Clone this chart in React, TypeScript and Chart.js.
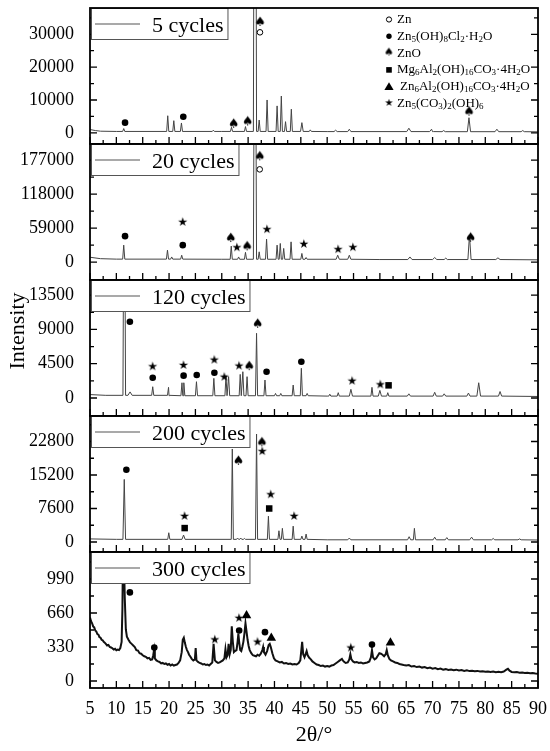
import React, { useEffect, useRef } from 'react';
import { Chart, registerables } from 'chart.js';

Chart.register(...registerables);

const FONT = '"Liberation Serif", "Times New Roman", serif';

type Pt = [number, number];
type Peak = [number, number, number?];
type Marker = [string, number, number];

// ---------- shared axis data ----------
const xTickLabels = [5, 10, 15, 20, 25, 30, 35, 40, 45, 50, 55, 60, 65, 70, 75, 80, 85, 90];
const xMinorTicks = [7.5, 12.5, 17.5, 22.5, 27.5, 32.5, 37.5, 42.5, 47.5, 52.5, 57.5, 62.5, 67.5, 72.5, 77.5, 82.5, 87.5];
const cycleLabels = ['5 cycles', '20 cycles', '120 cycles', '200 cycles', '300 cycles'];

// ---------- 5 cycles ----------
const yTicks5 = [0, 10000, 20000, 30000];
const yMinor5 = [5000, 15000, 25000, 35000];
const base5: Pt[] = [[5, 1000], [6, 700], [7, 500], [10, 420], [30, 420], [50, 380], [70, 350], [90, 300]];
const peaks5: Peak[] = [
  [11.4, 1300], [19.75, 5200], [20.9, 3700], [22.35, 3000], [28.4, 800], [31.85, 1700], [34.5, 1900],
  [36.3, 200000, 0.3], [37.1, 3900], [38.6, 10000], [40.5, 8200], [41.3, 11200], [42.1, 3400], [43.2, 7200],
  [45.2, 3100, 0.25], [46.8, 900], [51.6, 800, 0.3], [54.2, 1100, 0.3], [65.5, 1400, 0.4], [69.8, 1100, 0.35],
  [72.1, 700, 0.3], [76.9, 4600, 0.3], [82.2, 1100, 0.35], [87.1, 700, 0.3],
];
const markers5: Marker[] = [
  ['ZnO', 37.25, 33600], ['Zn', 37.25, 30600], ['HC', 11.65, 3100], ['HC', 22.7, 4900],
  ['ZnO', 32.25, 2600], ['ZnO', 34.9, 3300], ['ZnO', 76.9, 6300],
];

// ---------- 20 cycles ----------
const yTicks20 = [0, 59000, 118000, 177000];
const yMinor20 = [29500, 88500, 147500];
const base20: Pt[] = [[5, 8500], [7, 6000], [10, 5200], [30, 5000], [60, 4500], [90, 4000]];
const peaks20: Peak[] = [
  [11.4, 29500], [19.7, 20800], [20.5, 9000], [22.4, 12000], [31.8, 27800], [33.2, 9000], [34.5, 17000],
  [36.3, 700000, 0.3], [37.1, 17900], [38.5, 40000], [40.5, 29500], [41.1, 32400], [41.75, 23800],
  [43.15, 35200], [45.2, 15100], [46.0, 8000], [52.0, 12000, 0.3], [54.2, 12000, 0.3], [65.7, 9000, 0.4],
  [70.4, 8000, 0.4], [72.5, 7000, 0.3], [77.0, 46800, 0.3], [82.4, 7500, 0.4],
];
const markers20: Marker[] = [
  ['HC', 11.65, 45100], ['HZ', 22.6, 68200], ['HC', 22.6, 29500], ['ZnO', 31.7, 41000], ['HZ', 32.9, 24000],
  ['ZnO', 34.8, 26500], ['ZnO', 37.2, 182700], ['Zn', 37.2, 161000], ['HZ', 38.6, 55500], ['HZ', 45.6, 30000],
  ['HZ', 52.1, 20800], ['HZ', 54.9, 24300], ['ZnO', 77.2, 41600],
];

// ---------- 120 cycles ----------
const yTicks120 = [0, 4500, 9000, 13500];
const yMinor120 = [2250, 6750, 11250];
const base120: Pt[] = [[5, 450], [8, 350], [20, 300], [50, 250], [90, 200]];
const peaks120: Peak[] = [
  [11.5, 40000, 0.25], [12.6, 800, 0.4], [16.9, 1480], [19.9, 1400], [22.45, 2000], [22.8, 2000], [25.2, 2140],
  [28.5, 2580], [30.8, 2930], [31.3, 2800], [33.5, 3100], [34.0, 3450], [34.8, 2800], [36.6, 8490], [38.2, 2360],
  [40.2, 600], [41.2, 600], [43.55, 1700], [45.1, 3900], [46.2, 600], [50.5, 500], [52.1, 700], [54.5, 1140, 0.3],
  [58.5, 1400], [60.0, 1000, 0.3], [61.5, 700], [65.5, 550, 0.3], [70.4, 750, 0.3], [72.2, 550, 0.3],
  [76.8, 650, 0.3], [78.75, 2000, 0.35], [82.8, 850, 0.3],
];
const markers120: Marker[] = [
  ['HC', 12.57, 10000], ['HZ', 16.9, 4030], ['HC', 16.9, 2660], ['HZ', 22.76, 4200], ['HC', 22.76, 2930],
  ['HC', 25.25, 3020], ['HZ', 28.6, 4900], ['HC', 28.6, 3320], ['HZ', 30.5, 2660], ['HZ', 33.3, 4110],
  ['ZnO', 35.2, 4110], ['ZnO', 36.8, 9670], ['HC', 38.5, 3450], ['HC', 45.1, 4760], ['HZ', 54.75, 2140],
  ['HZ', 60.1, 1660], ['MgAl', 61.65, 1660],
];

// ---------- 200 cycles ----------
const yTicks200 = [0, 7600, 15200, 22800];
const yMinor200 = [3800, 11400, 19000, 26600];
const base200: Pt[] = [[5, 700], [10, 600], [50, 500], [90, 450]];
const peaks200: Peak[] = [
  [11.5, 14200, 0.25], [19.95, 2100], [22.75, 1580, 0.3], [32.0, 21100], [33.0, 900], [33.6, 900], [34.3, 800],
  [36.6, 24500], [38.85, 5860], [40.85, 2550], [41.5, 3100], [43.55, 3600], [45.2, 1350], [46.0, 1800],
  [54.2, 900, 0.3], [65.55, 1200, 0.3], [66.55, 3100], [70.4, 1100, 0.3], [72.7, 1000, 0.3], [77.4, 1100, 0.35],
  [81.5, 800, 0.3], [86.5, 700, 0.3],
];
const markers200: Marker[] = [
  ['HC', 11.9, 16400], ['HZ', 22.96, 5700], ['MgAl', 22.96, 3160], ['ZnO', 33.15, 18300], ['ZnO', 37.6, 22500],
  ['HZ', 37.7, 20400], ['HZ', 39.3, 10600], ['MgAl', 39.0, 7600], ['HZ', 43.75, 5700],
];

// ---------- 300 cycles ----------
const yTicks300 = [0, 330, 660, 990];
const yMinor300 = [165, 495, 825, 1155];
const series300: Pt[] = [
  [5.0, 616], [5.2, 580], [5.4, 560], [5.6, 530], [5.8, 520], [6.0, 490], [6.2, 480], [6.4, 455], [6.6, 450],
  [6.8, 425], [7.0, 420], [7.2, 400], [7.4, 395], [7.6, 380], [7.8, 372], [8.0, 360], [8.25, 345], [8.5, 350],
  [8.75, 330], [9.0, 325], [9.25, 318], [9.5, 305], [9.75, 312], [10.0, 298], [10.25, 305], [10.5, 300],
  [10.75, 320], [11.0, 380], [11.15, 700], [11.3, 1500], [11.45, 1500], [11.6, 800], [11.8, 500], [12.0, 430],
  [12.3, 400], [12.6, 375], [12.9, 360], [13.2, 345], [13.5, 330], [13.8, 300], [14.1, 295], [14.4, 270],
  [14.7, 265], [15.0, 250], [15.3, 240], [15.6, 235], [15.9, 220], [16.2, 225], [16.5, 205], [16.8, 210],
  [17.0, 250], [17.15, 300], [17.3, 220], [17.6, 200], [17.9, 190], [18.2, 185], [18.5, 170], [18.8, 175],
  [19.1, 165], [19.4, 170], [19.7, 158], [20.0, 165], [20.3, 150], [20.6, 160], [20.9, 150], [21.2, 155],
  [21.5, 160], [21.8, 175], [22.1, 200], [22.4, 280], [22.6, 400], [22.8, 420], [23.0, 370], [23.2, 330],
  [23.4, 300], [23.6, 280], [23.8, 255], [24.0, 240], [24.3, 215], [24.6, 200], [24.9, 210], [25.05, 320],
  [25.2, 200], [25.5, 185], [25.8, 175], [26.1, 170], [26.4, 160], [26.7, 165], [27.0, 155], [27.3, 160],
  [27.6, 150], [27.9, 165], [28.2, 180], [28.45, 360], [28.7, 200], [29.0, 185], [29.3, 175], [29.6, 180],
  [29.9, 190], [30.2, 200], [30.5, 220], [30.7, 310], [30.9, 230], [31.1, 250], [31.3, 360], [31.5, 260],
  [31.7, 300], [31.9, 530], [32.1, 380], [32.3, 280], [32.5, 290], [32.8, 300], [33.0, 380], [33.15, 460],
  [33.3, 380], [33.5, 300], [33.7, 290], [33.9, 330], [34.1, 380], [34.3, 460], [34.5, 560], [34.7, 480],
  [34.9, 400], [35.1, 340], [35.3, 300], [35.6, 270], [35.9, 250], [36.2, 245], [36.5, 240], [36.8, 255],
  [37.1, 245], [37.4, 265], [37.7, 300], [37.85, 330], [38.0, 280], [38.3, 255], [38.6, 290], [38.9, 350],
  [39.1, 360], [39.3, 330], [39.6, 270], [39.9, 220], [40.2, 200], [40.6, 190], [41.0, 180], [41.4, 185],
  [41.8, 170], [42.2, 175], [42.6, 165], [43.0, 170], [43.4, 160], [43.8, 165], [44.2, 160], [44.6, 175],
  [44.9, 200], [45.1, 300], [45.25, 380], [45.45, 260], [45.7, 230], [45.9, 260], [46.1, 290], [46.3, 250],
  [46.6, 225], [46.9, 210], [47.2, 190], [47.6, 175], [48.0, 160], [48.4, 155], [48.8, 145], [49.2, 150],
  [49.6, 140], [50.0, 145], [50.4, 140], [50.8, 150], [51.2, 155], [51.6, 170], [52.0, 185], [52.4, 200],
  [52.8, 215], [53.1, 190], [53.5, 175], [53.9, 180], [54.2, 210], [54.4, 260], [54.6, 210], [54.9, 190],
  [55.2, 180], [55.6, 185], [56.0, 175], [56.4, 180], [56.8, 170], [57.2, 175], [57.6, 180], [58.0, 190],
  [58.3, 230], [58.5, 300], [58.7, 230], [59.0, 210], [59.3, 220], [59.6, 245], [59.9, 270], [60.2, 265],
  [60.5, 255], [60.8, 240], [61.1, 260], [61.3, 300], [61.5, 250], [61.8, 215], [62.1, 200], [62.5, 190],
  [62.9, 180], [63.3, 175], [63.7, 165], [64.1, 160], [64.5, 155], [65.0, 150], [65.5, 155], [66.0, 140],
  [66.5, 145], [67.0, 135], [67.5, 140], [68.0, 130], [68.5, 135], [69.0, 125], [69.5, 130], [70.0, 120],
  [70.5, 125], [71.0, 115], [71.5, 120], [72.0, 110], [72.5, 115], [73.0, 108], [73.5, 112], [74.0, 105],
  [74.5, 110], [75.0, 102], [75.5, 106], [76.0, 98], [76.5, 103], [77.0, 96], [77.5, 100], [78.0, 94],
  [78.5, 98], [79.0, 92], [79.5, 95], [80.0, 90], [80.5, 93], [81.0, 88], [81.5, 92], [82.0, 86], [82.5, 90],
  [83.0, 86], [83.5, 92], [84.0, 110], [84.3, 118], [84.6, 100], [85.0, 88], [85.5, 84], [86.0, 86], [86.5, 80],
  [87.0, 82], [87.5, 78], [88.0, 80], [88.5, 75], [89.0, 77], [89.5, 72], [90.0, 70],
];
const markers300: Marker[] = [
  ['HC', 12.57, 860], ['HC', 17.2, 324], ['HZ', 28.7, 394], ['HZ', 33.3, 603], ['HC', 33.3, 490],
  ['ZnAl', 34.7, 635], ['HZ', 36.8, 372], ['HC', 38.2, 474], ['ZnAl', 39.4, 417], ['HZ', 54.5, 315],
  ['HC', 58.5, 353], ['ZnAl', 62.0, 372],
];

// ---------- phase legend ----------
const phaseTypes = ['Zn', 'HC', 'ZnO', 'MgAl', 'ZnAl', 'HZ'];
const phaseNames = ['Zn', 'Zn_5(OH)_8Cl_2·H_2O', 'ZnO', 'Mg_6Al_2(OH)_16CO_3·4H_2O', 'Zn_6Al_2(OH)_16CO_3·4H_2O', 'Zn_5(CO_3)_2(OH)_6'];

// ---------- layout constants ----------
const PANEL_TOPS = [8, 144, 280, 416, 552];
const PANEL_H = 136;
const PLOT_LEFT = 90;
const PLOT_RIGHT = 538;
const PAGE_H = 751;

function buildPattern(base: Pt[], peaks: Peak[], hw: number) {
  const pts = base.map(([x, y]) => ({ x, y }));
  for (const pk of peaks) {
    const c = pk[0], h = pk[1], w = pk[2] ?? hw;
    let b = base[0][1];
    for (const [bx, by] of base) if (bx <= c) b = by;
    pts.push({ x: c - w, y: b }, { x: c, y: h }, { x: c + w, y: b });
  }
  return pts.sort((a, b) => a.x - b.x);
}

const PANELS = [
  { label: cycleLabels[0], data: () => buildPattern(base5, peaks5, 0.2), yMin: -3400, yMax: 38000, yTicks: yTicks5, yMinor: yMinor5, markers: markers5, color: '#444', lw: 1 },
  { label: cycleLabels[1], data: () => buildPattern(base20, peaks20, 0.2), yMin: -31000, yMax: 205000, yTicks: yTicks20, yMinor: yMinor20, markers: markers20, color: '#444', lw: 1 },
  { label: cycleLabels[2], data: () => buildPattern(base120, peaks120, 0.2), yMin: -2360, yMax: 15480, yTicks: yTicks120, yMinor: yMinor120, markers: markers120, color: '#444', lw: 1 },
  { label: cycleLabels[3], data: () => buildPattern(base200, peaks200, 0.2), yMin: -2268, yMax: 28584, yTicks: yTicks200, yMinor: yMinor200, markers: markers200, color: '#444', lw: 1 },
  { label: cycleLabels[4], data: () => series300.map(([x, y]) => ({ x, y })), yMin: -68, yMax: 1252, yTicks: yTicks300, yMinor: yMinor300, markers: markers300, color: '#111', lw: 2 },
];

let glyphCache: { spade: HTMLCanvasElement; star: HTMLCanvasElement; spadeS: HTMLCanvasElement; starS: HTMLCanvasElement } | null = null;
function makeGlyph(ch: string, px: number) {
  const c = document.createElement('canvas');
  const s = Math.ceil(px * 1.3);
  c.width = s; c.height = s;
  const g = c.getContext('2d')!;
  g.fillStyle = '#000';
  g.font = `${px}px "DejaVu Sans"`;
  g.textAlign = 'center';
  g.textBaseline = 'middle';
  g.fillText(ch, s / 2, s / 2);
  return c;
}
function glyphs() {
  if (!glyphCache) {
    glyphCache = { spade: makeGlyph('♠', 13), star: makeGlyph('★', 12), spadeS: makeGlyph('♠', 11), starS: makeGlyph('★', 10) };
  }
  return glyphCache;
}

function markerDataset(type: string, pts: { x: number; y: number }[]) {
  const g = glyphs();
  const common: any = { type: 'scatter', data: pts, order: 0, showLine: false, borderWidth: 0, backgroundColor: '#000', borderColor: '#000' };
  switch (type) {
    case 'Zn': return { ...common, pointStyle: 'circle', pointRadius: 2.8, backgroundColor: '#fff', borderWidth: 1 };
    case 'HC': return { ...common, pointStyle: 'circle', pointRadius: 3.3 };
    case 'ZnO': return { ...common, pointStyle: g.spade, pointRadius: 5 };
    case 'MgAl': return { ...common, pointStyle: 'rect', pointRadius: 4.6 };
    case 'ZnAl': return { ...common, pointStyle: 'triangle', pointRadius: 5.5 };
    default: return { ...common, pointStyle: g.star, pointRadius: 5 };
  }
}

function drawSymbol(ctx: CanvasRenderingContext2D, type: string, x: number, y: number) {
  const g = glyphs();
  ctx.fillStyle = '#000';
  ctx.strokeStyle = '#000';
  ctx.lineWidth = 1;
  if (type === 'Zn') { ctx.beginPath(); ctx.arc(x, y, 2.6, 0, Math.PI * 2); ctx.stroke(); }
  else if (type === 'HC') { ctx.beginPath(); ctx.arc(x, y, 2.7, 0, Math.PI * 2); ctx.fill(); }
  else if (type === 'ZnO') ctx.drawImage(g.spadeS, x - g.spadeS.width / 2, y - g.spadeS.height / 2);
  else if (type === 'MgAl') ctx.fillRect(x - 2.8, y - 2.8, 5.6, 5.6);
  else if (type === 'ZnAl') { ctx.beginPath(); ctx.moveTo(x, y - 4.5); ctx.lineTo(x + 4.6, y + 3.3); ctx.lineTo(x - 4.6, y + 3.3); ctx.closePath(); ctx.fill(); }
  else ctx.drawImage(g.starS, x - g.starS.width / 2, y - g.starS.height / 2);
}

function drawFormula(ctx: CanvasRenderingContext2D, text: string, x: number, y: number) {
  const parts = text.split(/_(\d+)/);
  let cx = x;
  parts.forEach((seg, k) => {
    if (!seg) return;
    const sub = k % 2 === 1;
    ctx.font = sub ? `9px ${FONT}` : `13px ${FONT}`;
    ctx.fillText(seg, cx, sub ? y + 3 : y);
    cx += ctx.measureText(seg).width;
  });
}

function decorPlugin(i: number) {
  return {
    id: 'decor' + i,
    afterDatasetsDraw(chart: any) {
      const p = PANELS[i];
      const ctx: CanvasRenderingContext2D = chart.ctx;
      const a = chart.chartArea;
      const xs = chart.scales.x, ys = chart.scales.y;
      ctx.save();
      // inward ticks
      ctx.strokeStyle = '#000';
      ctx.lineWidth = 1.3;
      ctx.beginPath();
      const seg = (x1: number, y1: number, x2: number, y2: number) => { ctx.moveTo(x1, y1); ctx.lineTo(x2, y2); };
      for (const v of p.yTicks) { const y = ys.getPixelForValue(v); seg(a.left, y, a.left + 7, y); seg(a.right, y, a.right - 7, y); }
      for (const v of p.yMinor) { const y = ys.getPixelForValue(v); seg(a.left, y, a.left + 4, y); seg(a.right, y, a.right - 4, y); }
      for (const v of xTickLabels) { const x = xs.getPixelForValue(v); seg(x, a.bottom, x, a.bottom - 7); }
      for (const v of xMinorTicks) { const x = xs.getPixelForValue(v); seg(x, a.bottom, x, a.bottom - 4); }
      ctx.stroke();
      // legend box
      ctx.font = `22px ${FONT}`;
      const tw = ctx.measureText(p.label).width;
      const bx = a.left + 1.5, by = a.top + 0.5, bw = 61 + tw + 4, bh = 31;
      ctx.fillStyle = '#fff';
      ctx.fillRect(bx, by, bw, bh);
      ctx.lineWidth = 1;
      ctx.strokeStyle = '#555';
      ctx.strokeRect(bx, by, bw, bh);
      ctx.beginPath();
      ctx.moveTo(a.left + 5, a.top + 16);
      ctx.lineTo(a.left + 50, a.top + 16);
      ctx.strokeStyle = '#555';
      ctx.lineWidth = 1.2;
      ctx.stroke();
      ctx.fillStyle = '#000';
      ctx.textAlign = 'left';
      ctx.textBaseline = 'alphabetic';
      ctx.fillText(p.label, a.left + 62, a.top + 24);
      // frame
      ctx.strokeStyle = '#000';
      ctx.lineWidth = 1.8;
      ctx.strokeRect(a.left, a.top, a.right - a.left, a.bottom - a.top);
      // phase legend (top panel)
      if (i === 0) {
        phaseTypes.forEach((t, k) => {
          const y = a.top + 11.5 + k * 16.8;
          drawSymbol(ctx, t, a.right - 149, y);
          ctx.fillStyle = '#000';
          ctx.textBaseline = 'middle';
          drawFormula(ctx, phaseNames[k], a.right - (t === 'ZnAl' ? 138 : 141), y);
        });
      }
      // y-axis title (spans the figure, drawn with the middle panel)
      if (i === 2) {
        ctx.save();
        ctx.translate(18, a.top + 51);
        ctx.rotate(-Math.PI / 2);
        ctx.font = `22px ${FONT}`;
        ctx.fillStyle = '#000';
        ctx.textAlign = 'center';
        ctx.textBaseline = 'middle';
        ctx.fillText('Intensity', 0, 0);
        ctx.restore();
      }
      ctx.restore();
    },
  };
}

function PanelChart({ index }: { index: number }) {
  const ref = useRef<HTMLCanvasElement | null>(null);
  const top = PANEL_TOPS[index];
  const isLast = index === PANELS.length - 1;
  const mt = index === 0 ? 8 : 10;
  const canvasTop = top - mt;
  const canvasH = isLast ? PAGE_H - canvasTop : mt + PANEL_H + 10;

  useEffect(() => {
    const p = PANELS[index];
    const canvas = ref.current!;
    const datasets: any[] = [
      { type: 'scatter', data: p.data(), showLine: true, borderColor: p.color, borderWidth: p.lw, pointRadius: 0, order: 1, tension: 0 },
    ];
    for (const t of phaseTypes) {
      const pts = p.markers.filter((m) => m[0] === t).map((m) => ({ x: m[1], y: m[2] }));
      if (pts.length) datasets.push(markerDataset(t, pts));
    }
    const chart = new Chart(canvas, {
      type: 'scatter',
      data: { datasets },
      options: {
        animation: false,
        responsive: false,
        events: [],
        layout: { padding: { left: 0, right: 550 - PLOT_RIGHT, top: mt, bottom: isLast ? 0 : 10 } },
        plugins: { legend: { display: false }, tooltip: { enabled: false } },
        scales: {
          x: {
            type: 'linear',
            min: 5,
            max: 90,
            display: isLast,
            grid: { display: false },
            border: { display: false },
            afterBuildTicks: (s: any) => { s.ticks = xTickLabels.map((v) => ({ value: v })); },
            afterFit: (s: any) => {
              s.height = isLast ? PAGE_H - (top + PANEL_H) : 0;
              s.paddingLeft = 0;
              s.paddingRight = 0;
            },
            ticks: { autoSkip: false, maxRotation: 0, padding: 2, color: '#000', font: { family: FONT, size: 18 }, callback: (v: any) => String(v) },
            title: { display: isLast, text: '2θ/°', color: '#000', font: { family: FONT, size: 22 }, padding: { top: 0, bottom: 3 } },
          },
          y: {
            type: 'linear',
            min: p.yMin,
            max: p.yMax,
            grid: { display: false },
            border: { display: false },
            afterBuildTicks: (s: any) => { s.ticks = p.yTicks.map((v) => ({ value: v })); },
            afterFit: (s: any) => { s.width = PLOT_LEFT; s.paddingTop = 0; s.paddingBottom = 0; },
            ticks: { autoSkip: false, padding: 8, color: '#000', font: { family: FONT, size: 18 }, callback: (v: any) => String(v) },
          },
        },
      },
      plugins: [decorPlugin(index)],
    } as any);
    return () => chart.destroy();
  }, [index]);

  return (
    <canvas
      ref={ref}
      width={550}
      height={canvasH}
      style={{ position: 'absolute', left: 0, top: canvasTop, width: 550, height: canvasH }}
    />
  );
}

export default function App() {
  return (
    <div style={{ position: 'absolute', left: 0, top: 0, width: 550, height: PAGE_H, background: '#fff', overflow: 'hidden' }}>
      {PANELS.map((_, i) => (
        <PanelChart key={i} index={i} />
      ))}
    </div>
  );
}
